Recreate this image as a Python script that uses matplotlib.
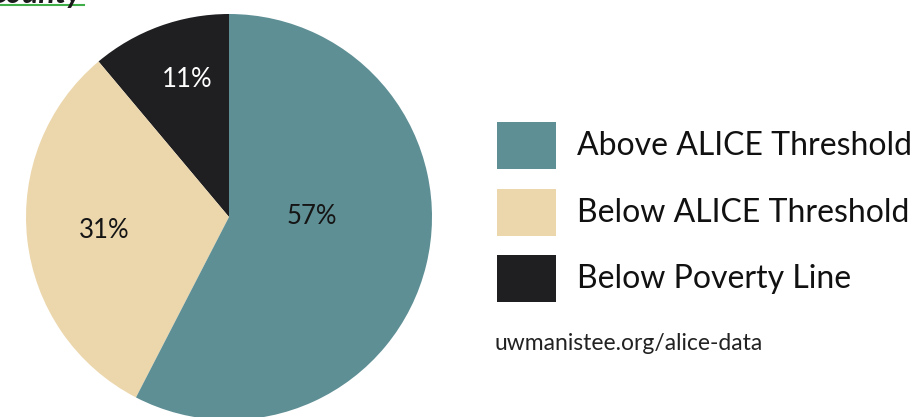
import matplotlib.pyplot as plt
import numpy as np
from matplotlib.patches import Rectangle
from matplotlib.lines import Line2D

# household share by income status, going counter-clockwise from 12 o'clock
categories = ["Below Poverty Line", "Below ALICE Threshold", "Above ALICE Threshold"]
shares = [11, 31, 57]
colors = ["#1f1f22", "#ecd7ad", "#5e8f95"]
pct_colors = ["white", "#151515", "#151515"]

legend_order = ["Above ALICE Threshold", "Below ALICE Threshold", "Below Poverty Line"]
source_text = "uwmanistee.org/alice-data"

W, H = 918, 417
fig = plt.figure(figsize=(W / 100, H / 100), dpi=100)
fig.patch.set_facecolor("white")

def px(x, y):
    # pixel position (from top-left) -> figure fraction
    return x / W, 1 - y / H

# === pie ===
cx, cy, r = 229, 217, 203
ax = fig.add_axes([(cx - r) / W, (H - cy - r) / H, 2 * r / W, 2 * r / H])
wedges, _ = ax.pie(shares, colors=colors, startangle=90, counterclock=True,
                   radius=1, wedgeprops=dict(linewidth=0))
ax.set_xlim(-1, 1)
ax.set_ylim(-1, 1)
ax.set_aspect("equal")
ax.axis("off")

# label placement (angle in degrees, distance from centre)
label_spots = [(107, 0.71), (186, 0.62), (0, 0.41)]
for val, (ang, dist), c in zip(shares, label_spots, pct_colors):
    a = np.deg2rad(ang)
    ax.text(dist * np.cos(a), dist * np.sin(a), f"{val}%", color=c,
            fontsize=18.5, family="Lato", ha="center", va="center")

# === legend ===
color_of = dict(zip(categories, colors))
for i, name in enumerate(legend_order):
    top = 122 + i * 66.5
    x0, y0 = px(497, top + 47)
    fig.add_artist(Rectangle((x0, y0), 59 / W, 47 / H, transform=fig.transFigure,
                             facecolor=color_of[name], edgecolor="none"))
    tx, ty = px(577, top + 24)
    fig.text(tx, ty, name, fontsize=23, family="Lato", color="#111111",
             ha="left", va="center")

sx, sy = px(495, 350)
fig.text(sx, sy, source_text, fontsize=16.5, family="Lato", color="#222222",
         ha="left", va="baseline")

# heading running off the top edge
hx, hy = px(82, 3)
fig.text(hx, hy, "County", fontsize=22, style="italic", weight="bold",
         family="Lato", color="#1a1a1a", ha="right", va="baseline")
fig.add_artist(Line2D([0, 84 / W], [1 - 5 / H] * 2, transform=fig.transFigure,
                      color="#3fae49", linewidth=1.5))

fig.savefig("out.png", dpi=100)
